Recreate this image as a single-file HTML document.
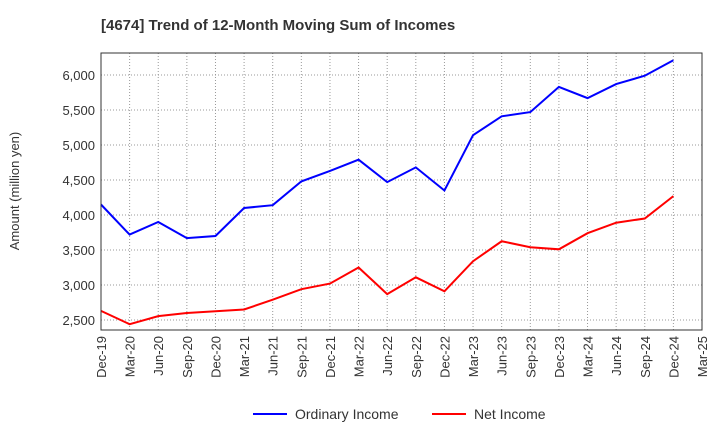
<!DOCTYPE html>
<html><head><meta charset="utf-8"><style>
body{margin:0;background:#fff;font-family:"Liberation Sans",sans-serif;}
svg text{font-family:"Liberation Sans",sans-serif;}
</style></head><body>
<svg id="chart" width="720" height="440">
<text x="101" y="30" font-size="15" font-weight="bold" fill="#333">[4674]  Trend of 12-Month Moving Sum of Incomes</text>
<g id="grid"></g>
<g id="yaxis"></g>
<g id="xaxis"></g>
<g id="series"></g>
<rect x="101" y="53" width="601" height="277" fill="none" stroke="#333" stroke-width="1"/>
<text transform="translate(19,191) rotate(-90)" text-anchor="middle" font-size="13" fill="#333">Amount (million yen)</text>
<g>
<line x1="253" y1="414" x2="287" y2="414" stroke="#0000ff" stroke-width="2"/>
<text x="295" y="419" font-size="14" fill="#333">Ordinary Income</text>
<line x1="432" y1="414" x2="466" y2="414" stroke="#ff0000" stroke-width="2"/>
<text x="474" y="419" font-size="14" fill="#333">Net Income</text>
</g>
</svg>
<script>
const categories=["Dec-19","Mar-20","Jun-20","Sep-20","Dec-20","Mar-21","Jun-21","Sep-21","Dec-21","Mar-22","Jun-22","Sep-22","Dec-22","Mar-23","Jun-23","Sep-23","Dec-23","Mar-24","Jun-24","Sep-24","Dec-24","Mar-25"];
const ordinaryIncome=[4150,3720,3900,3670,3700,4100,4140,4480,4630,4790,4470,4680,4350,5140,5410,5470,5830,5670,5870,5990,6210];
const netIncome=[2630,2440,2555,2600,2625,2650,2790,2940,3020,3250,2870,3110,2910,3340,3625,3540,3510,3740,3890,3950,4270];
const yTicks=[2500,3000,3500,4000,4500,5000,5500,6000];
const NS="http://www.w3.org/2000/svg";
const L=101,R=702,T=53,B=330;
const xs=i=>L+i*(R-L)/(categories.length-1);
const ys=v=>320-(v-2500)*70/1000;
const grid=document.getElementById('grid'),ya=document.getElementById('yaxis'),xa=document.getElementById('xaxis'),ser=document.getElementById('series');
function mk(t,a,p){const e=document.createElementNS(NS,t);for(const k in a)e.setAttribute(k,a[k]);p.appendChild(e);return e;}
yTicks.forEach(v=>{
 const y=ys(v);
 const g=mk('line',{x1:L,x2:R,y1:y,y2:y,stroke:'#999','stroke-dasharray':'1,2','stroke-width':1},grid);
 
 
 const t=mk('text',{x:L-6,y:y+5,'text-anchor':'end','font-size':13,fill:'#333'},ya);
 
 
 t.textContent=v.toLocaleString('en-US');
});
categories.forEach((c,i)=>{
 const x=xs(i);
 const g=mk('line',{x1:x,x2:x,y1:T,y2:B,stroke:'#999','stroke-dasharray':'1,2','stroke-width':1},grid);
 
 
 const t=mk('text',{transform:`translate(${x+5},${B+6}) rotate(-90)`,'text-anchor':'end','font-size':13,fill:'#333'},xa);
 
 
 t.textContent=c;
});
function line(data,color,name){
 const p=mk('polyline',{points:data.map((v,i)=>xs(i)+','+ys(v)).join(' '),fill:'none',stroke:color,'stroke-width':2},ser);
 
 
}
line(ordinaryIncome,'#0000ff','ordinary-income-line');
line(netIncome,'#ff0000','net-income-line');
</script>
</body></html>
